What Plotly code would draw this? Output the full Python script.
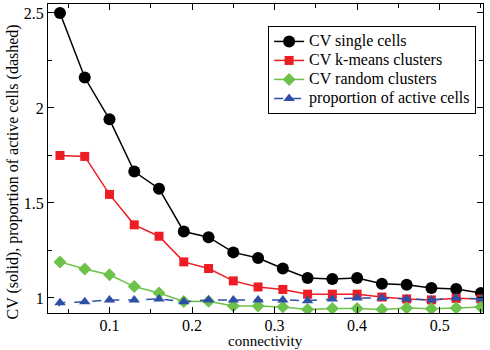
import plotly.graph_objects as go

connectivity = [0.04, 0.07, 0.10, 0.13, 0.16, 0.19, 0.22, 0.25, 0.28, 0.31,
                0.34, 0.37, 0.40, 0.43, 0.46, 0.49, 0.52, 0.55]
cv_single = [2.50, 2.16, 1.94, 1.665, 1.575, 1.35, 1.32, 1.24, 1.21, 1.155,
             1.105, 1.10, 1.105, 1.075, 1.07, 1.053, 1.047, 1.026]
cv_kmeans = [1.75, 1.745, 1.545, 1.385, 1.325, 1.19, 1.155, 1.09, 1.058, 1.045,
             1.02, 1.02, 1.02, 1.005, 0.995, 0.99, 0.998, 0.995]
cv_random = [1.19, 1.153, 1.122, 1.06, 1.026, 0.982, 0.983, 0.958, 0.958, 0.953,
             0.94, 0.945, 0.945, 0.94, 0.947, 0.943, 0.947, 0.952]
active_x = [0.01] + connectivity
active_prop = [0.5, 0.975, 0.98, 0.99, 0.99, 0.995, 0.98, 0.99, 0.99, 0.99, 0.99,
               0.986, 0.995, 1.0, 1.0, 0.995, 0.99, 1.0, 0.995]
series_names = ["CV single cells", "CV k-means clusters", "CV random clusters",
                "proportion of active cells"]

FONT = "Liberation Serif"


def lab(s):
    return "<span style='font-size:16px'>" + s + "</span>"


fig = go.Figure()
fig.add_trace(go.Scatter(x=connectivity, y=cv_single, mode="lines+markers",
                         name=lab(series_names[0]),
                         line=dict(color="black", width=1.5),
                         marker=dict(symbol="circle", size=12, color="black")))
fig.add_trace(go.Scatter(x=connectivity, y=cv_kmeans, mode="lines+markers",
                         name=lab(series_names[1]),
                         line=dict(color="#ee1c24", width=1.5),
                         marker=dict(symbol="square", size=9, color="#ee1c24")))
fig.add_trace(go.Scatter(x=connectivity, y=cv_random, mode="lines+markers",
                         name=lab(series_names[2]),
                         line=dict(color="#6cc24a", width=1.5),
                         marker=dict(symbol="diamond", size=10, color="#6cc24a")))
fig.add_trace(go.Scatter(x=active_x, y=active_prop, mode="lines+markers",
                         name=lab(series_names[3]),
                         line=dict(color="#2e4fa8", width=1.5, dash="dash"),
                         marker=dict(symbol="triangle-up", size=10, color="#2e4fa8")))

axis_common = dict(showline=True, linecolor="black", linewidth=1, mirror="allticks",
                   ticks="inside", ticklen=6, tickcolor="black", showgrid=False,
                   zeroline=False, automargin=False,
                   tickfont=dict(family=FONT, size=16, color="black"))

fig.update_xaxes(range=[0.0255, 0.5525], tickvals=[0.1, 0.2, 0.3, 0.4, 0.5],
                 ticktext=["0.1", "0.2", "0.3", "0.4", "0.5"],
                 ticklabelstandoff=-2,
                 minor=dict(dtick=0.05, tick0=0, ticks="inside", ticklen=4, tickcolor="black"),
                 **axis_common)
fig.update_yaxes(range=[0.921, 2.547], tickvals=[1, 1.5, 2, 2.5],
                 ticktext=["1", "1.5", "2", "2.5"],
                 minor=dict(dtick=0.25, tick0=0, ticks="inside", ticklen=4, tickcolor="black"),
                 **axis_common)

fig.add_annotation(text="connectivity", xref="paper", yref="paper", x=0.5, y=0,
                   xanchor="center", yanchor="top", yshift=-18, showarrow=False,
                   font=dict(family=FONT, size=15, color="black"))
fig.add_annotation(text="CV (solid), proportion of active cells (dashed)",
                   xref="paper", yref="paper", x=0, y=0.5, xanchor="center",
                   yanchor="middle", xshift=-36, yshift=-14, textangle=-90, showarrow=False,
                   font=dict(family=FONT, size=16, color="black"))

fig.update_layout(
    width=490, height=350,
    margin=dict(l=48, r=7, t=4, b=37),
    paper_bgcolor="white", plot_bgcolor="white",
    font=dict(family=FONT, size=16, color="black"),
    showlegend=True,
    legend=dict(x=0.506, y=0.929, xanchor="left", yanchor="top",
                bgcolor="white", bordercolor="black", borderwidth=1,
                font=dict(family=FONT, size=11, color="black"),
                tracegroupgap=0, itemwidth=30),
)

fig.write_html("out.html", config={"displayModeBar": False},
               post_script="document.body.style.margin='0';")
